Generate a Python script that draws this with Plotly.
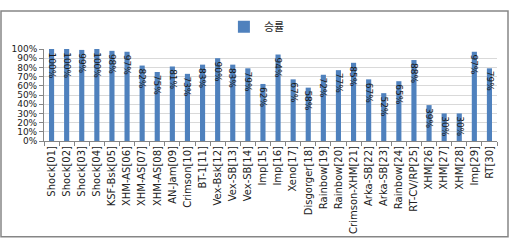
import plotly.graph_objects as go

categories = ["Shock[01]", "Shock[02]", "Shock[03]", "Shock[04]", "KSF-Bsk[05]", "XHM-AS[06]",
              "XHM-AS[07]", "XHM-AS[08]", "AN-Jam[09]", "Crimson[10]", "BT-1[11]", "Vex-Bsk[12]",
              "Vex-SB[13]", "Vex-SB[14]", "Imp[15]", "Imp[16]", "Xeno[17]", "Disgorger[18]",
              "Rainbow[19]", "Rainbow[20]", "Crimson-XHM[21]", "Arka-SB[22]", "Arka-SB[23]",
              "Rainbow[24]", "RT-CV/RP[25]", "XHM[26]", "XHM[27]", "XHM[28]", "Imp[29]", "RT[30]"]
win_rate = [100, 100, 99, 100, 98, 97, 82, 75, 81, 73, 83, 90, 83, 79, 62, 94, 67, 58, 72, 77,
            85, 67, 52, 65, 88, 39, 30, 30, 97, 79]
series_name = "승률"
y_ticks = [0, 10, 20, 30, 40, 50, 60, 70, 80, 90, 100]

W, H = 510, 246
ml, mr, mt, mb = 44, 13, 42, 105

font_main = "Noto Sans CJK KR, DejaVu Sans, sans-serif"
font_lbl = "DejaVu Sans, sans-serif"

fig = go.Figure()
fig.add_trace(go.Bar(
    x=categories, y=win_rate, name=series_name,
    marker=dict(color="#4F81BD", line=dict(width=0)),
))

for c, v in zip(categories, win_rate):
    fig.add_annotation(x=c, y=v, xref="x", yref="y", text=f"{v}%", showarrow=False,
                       textangle=90, yanchor="top", xanchor="center", yshift=-1,
                       font=dict(size=9, color="#1a1a1a", family=font_lbl))

fig.update_layout(
    width=W, height=H,
    margin=dict(l=ml, r=mr, t=mt, b=mb),
    paper_bgcolor="white", plot_bgcolor="white",
    bargap=0.66,
    showlegend=True,
    legend=dict(orientation="h", x=0.5, xanchor="center",
                font=dict(size=11, family=font_main, color="#222222"),
                bgcolor="rgba(0,0,0,0)"),
    xaxis=dict(
        type="category", tickangle=-90,
        tickfont=dict(size=10, family=font_lbl, color="#222222"),
        showline=True, linecolor="#868686", linewidth=1,
        ticks="outside", ticklen=4, tickcolor="#868686",
        tickson="boundaries", showgrid=False,
    ),
    yaxis=dict(
        range=[0, 100], tickvals=y_ticks, ticktext=[f"{v}%" for v in y_ticks],
        tickfont=dict(size=9, family=font_lbl, color="#222222"),
        showline=True, linecolor="#868686", linewidth=1,
        ticks="outside", ticklen=4, tickcolor="#868686",
        showgrid=True, gridcolor="#D9D9D9", gridwidth=1, zeroline=False,
    ),
)

# outer chart border
pw = W - ml - mr
ph = H - mt - mb
fig.add_shape(type="rect", xref="paper", yref="paper",
              x0=(1 - ml) / pw, x1=(W - 2 - ml) / pw,
              y0=-(H - 2 - mt - ph) / ph, y1=1 + (mt - 1) / ph,
              line=dict(color="#868686", width=1.5), fillcolor="rgba(0,0,0,0)", layer="below")

fig.update_layout(legend=dict(y=1 + 24 / ph, yanchor="middle", x=0.47))

fig.write_html("out.html")
